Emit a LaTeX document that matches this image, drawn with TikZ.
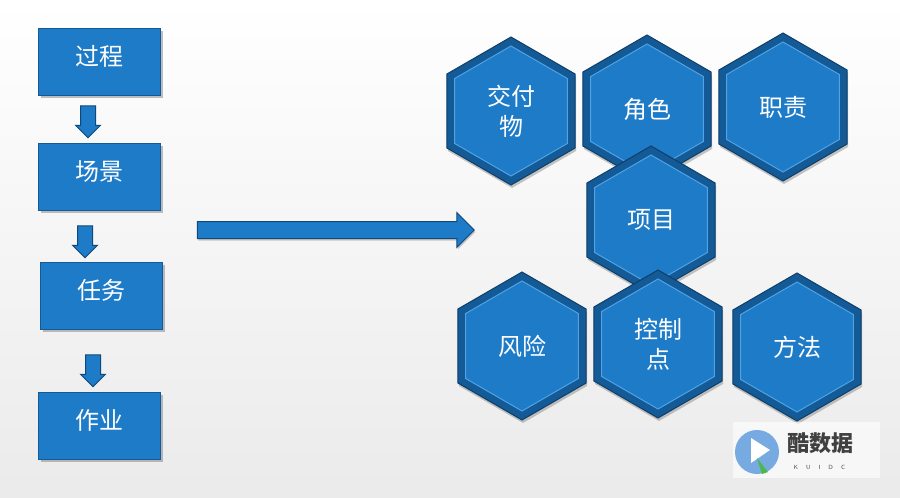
\documentclass[tikz,border=0pt]{standalone}
\usepackage{fontspec}
\newfontfamily\cjk{Noto Sans CJK SC}
\usetikzlibrary{shapes.geometric,shapes.arrows,shadows}
\definecolor{bA}{HTML}{1E7BC8}
\definecolor{bD}{HTML}{145A96}
\definecolor{bL}{HTML}{4FA3E3}
\tikzset{
 box/.style={draw=bD,line width=1.2pt,fill=bA,minimum width=122pt,minimum height=67pt,text depth=14pt,anchor=north west,text=white,font=\cjk\fontsize{24}{26}\selectfont,drop shadow={shadow xshift=2pt,shadow yshift=-2pt,opacity=.5}},
 hexo/.style={regular polygon,regular polygon sides=6,shape border rotate=30,minimum size=148pt,fill=bD,draw=bD!70!black,line width=1pt,drop shadow={shadow xshift=1pt,shadow yshift=-3pt,opacity=.45}},
 hexi/.style={regular polygon,regular polygon sides=6,shape border rotate=30,minimum size=130pt,fill=bA,draw=bL,line width=1pt,text=white,font=\cjk\fontsize{24}{30}\selectfont,align=center},
 darr/.style={single arrow,single arrow head extend=5pt,shape border rotate=270,minimum height=32pt,minimum width=24pt,inner sep=7pt,fill=bA,draw=bD!80!black,line width=1pt},
}
\newcommand{\hexa}[4]{\node[hexo] (#1o) at (#2,#3) {}; \node[hexi] (#1) at (#2,#3) {#4};}
\begin{document}
\begin{tikzpicture}[x=1pt,y=-1pt]
\useasboundingbox (0,0) rectangle (900,498);
\shade[top color=white,bottom color=black!8] (0,0) rectangle (900,498);
\node[box] (b1) at (38,28) {过程};
\node[box] (b2) at (38,143) {场景};
\node[box] (b3) at (40,262) {任务};
\node[box] (b4) at (38,392) {作业};
\node[darr] (a1) at (88,118) {};
\node[darr] (a2) at (85,238) {};
\node[darr] (a3) at (93,367) {};
\node[single arrow,single arrow head extend=9pt,minimum height=277pt,minimum width=34pt,inner xsep=0pt,inner ysep=8pt,fill=bA,draw=bD!80!black,line width=1pt,drop shadow={shadow xshift=1pt,shadow yshift=-2pt,opacity=.4}] (big) at (331.5,230) {};
\hexa{h1}{511}{111}{交付\\物}
\hexa{h2}{647}{109}{角色}
\hexa{h3}{783}{107}{职责}
\hexa{h4}{651}{220}{项目}
\hexa{h5}{522}{346}{风险}
\hexa{h6}{658}{344}{控制\\点}
\hexa{h7}{797}{347}{方法}
% logo
\fill[white,opacity=.6] (733,422) rectangle (880,478);
\node[circle,fill=cyan!60!blue!55,minimum size=44pt] (lc) at (757,452) {};
\fill[white] (751,438) -- (770,450) -- (751,463) -- cycle;
\fill[green!60!black!70] (757,458) -- (768,472) -- (762,474) -- cycle;
\node[font=\cjk\bfseries\fontsize{22}{22}\selectfont,text=black!75,anchor=west] (lt) at (784,443) {酷数据};
\node[font=\sffamily\fontsize{6}{6}\selectfont,text=black!70,anchor=west] (lk) at (790,467) {K\quad\ U\quad\ I\quad\ D\quad\ C};
\end{tikzpicture}
\end{document}
